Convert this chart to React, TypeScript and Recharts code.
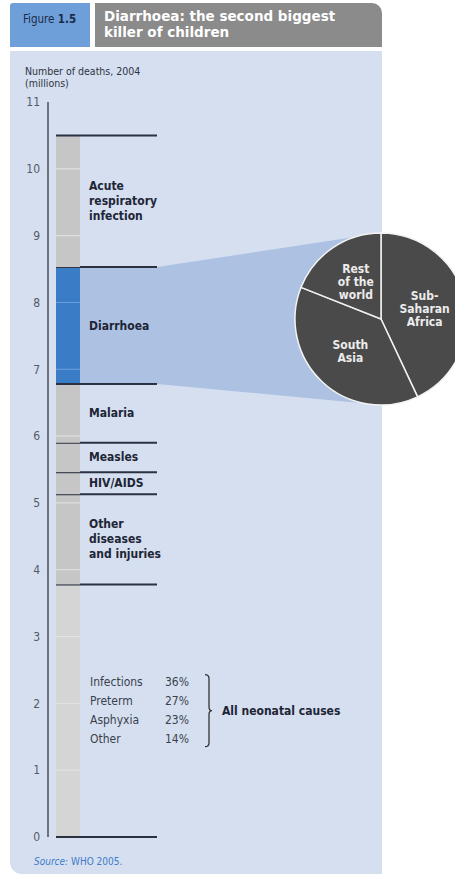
import React from 'react';
import { BarChart, Bar, XAxis, YAxis, PieChart, Pie, Cell } from 'recharts';

// ---------- data ----------
const causes = [
  'All neonatal causes',
  'Other diseases and injuries',
  'HIV/AIDS',
  'Measles',
  'Malaria',
  'Diarrhoea',
  'Acute respiratory infection',
];
const deaths = [3.78, 1.35, 0.33, 0.44, 0.88, 1.75, 1.97];
const causeLabelLines = [
  [] as string[],
  ['Other', 'diseases', 'and injuries'],
  ['HIV/AIDS'],
  ['Measles'],
  ['Malaria'],
  ['Diarrhoea'],
  ['Acute', 'respiratory', 'infection'],
];
const yTicks = [0, 1, 2, 3, 4, 5, 6, 7, 8, 9, 10, 11];

const neonatalCauses = ['Infections', 'Preterm', 'Asphyxia', 'Other'];
const neonatalShares = [36, 27, 23, 14];

const regions = ['Sub-Saharan Africa', 'South Asia', 'Rest of the world'];
const regionShares = [43, 38, 19];
const regionLabelLines = [
  ['Sub-', 'Saharan', 'Africa'],
  ['South', 'Asia'],
  ['Rest', 'of the', 'world'],
];

// ---------- styling / layout ----------
const NARROW = "'Liberation Sans Narrow', 'DejaVu Sans Condensed', 'Roboto Condensed', Arial, sans-serif";
const DIARRHOEA = 5;
const PIE_CX = 381;
const PIE_CY = 319;
const PIE_R = 86;
const LINE_LEN = 101;
const DARK = '#2b3140';
const LABEL = '#1e2535';

const row: Record<string, number | string> = { name: '2004' };
causes.forEach((_, i) => {
  row['c' + i] = deaths[i];
});
const chartData = [row];

function Segment(props: any) {
  const { x, y, width, height, idx } = props;
  if (height == null || width == null) return null;
  const val = deaths[idx];
  const base = deaths.slice(0, idx).reduce((a, b) => a + b, 0);
  const ppu = height / val;
  const bottom = y + height;
  const isDia = idx === DIARRHOEA;
  const fill = isDia ? '#3b7cc6' : idx === 0 ? '#d5d5d5' : '#c6c6c6';
  const gridColor = isDia ? '#6c9edb' : '#e4e4e4';
  const grid: number[] = [];
  for (let k = Math.ceil(base + 1e-6); k < base + val - 1e-6; k++) {
    grid.push(bottom - (k - base) * ppu);
  }
  const lx = x + width + 9;
  const cy = y + height / 2;
  const lines = causeLabelLines[idx];
  const lineEnd = x + LINE_LEN;

  return (
    <g>
      {isDia && (
        <polygon
          points={`${x + width},${y} ${lineEnd},${y} ${PIE_CX},${PIE_CY - PIE_R} ${PIE_CX},${PIE_CY + PIE_R} ${lineEnd},${bottom} ${x + width},${bottom}`}
          fill="#adc2e3"
        />
      )}
      <rect x={x} y={y} width={width} height={height} fill={fill} />
      {grid.map((gy, i) => (
        <line key={i} x1={x} x2={x + width} y1={gy} y2={gy} stroke={gridColor} strokeWidth={1} />
      ))}
      <line x1={x} x2={lineEnd} y1={y} y2={y} stroke={DARK} strokeWidth={2} />
      {(isDia || idx === 0) && (
        <line x1={x} x2={lineEnd} y1={bottom} y2={bottom} stroke={DARK} strokeWidth={2} />
      )}
      {lines.length > 0 && (
        <text fontFamily={NARROW} fontSize={12} fontWeight="bold" fill={LABEL}>
          {lines.map((l, i) => (
            <tspan key={i} x={lx} y={cy + (i - (lines.length - 1) / 2) * 15} dominantBaseline="central">
              {l}
            </tspan>
          ))}
        </text>
      )}
      {idx === 0 && (
        <g fontFamily={NARROW} fontSize={12}>
          {neonatalCauses.map((c, i) => {
            const ty = cy + (i - 1.5) * 19;
            return (
              <g key={c}>
                <text x={lx + 1} y={ty} fill="#3a3f4c" dominantBaseline="central">{c}</text>
                <text x={lx + 76} y={ty} fill="#3a3f4c" dominantBaseline="central">{neonatalShares[i]}%</text>
              </g>
            );
          })}
          <path
            d={`M${lx + 116},${cy - 36} Q${lx + 120},${cy - 36} ${lx + 120},${cy - 32} L${lx + 120},${cy - 4} Q${lx + 120},${cy} ${lx + 123},${cy} Q${lx + 120},${cy} ${lx + 120},${cy + 4} L${lx + 120},${cy + 32} Q${lx + 120},${cy + 36} ${lx + 116},${cy + 36}`}
            fill="none"
            stroke="#333"
            strokeWidth={1.3}
          />
          <text x={lx + 133} y={cy} fill={LABEL} fontWeight="bold" dominantBaseline="central">
            {causes[0]}
          </text>
        </g>
      )}
    </g>
  );
}

const renderPieLabel = (p: any) => {
  const RAD = Math.PI / 180;
  const r = p.outerRadius * 0.52;
  const lx = p.cx + r * Math.cos(-p.midAngle * RAD);
  const ly = p.cy + r * Math.sin(-p.midAngle * RAD);
  const lines = regionLabelLines[p.index];
  return (
    <text fill="#ececec" fontSize={12} fontWeight="bold" textAnchor="middle" fontFamily={NARROW}>
      {lines.map((l, i) => (
        <tspan key={i} x={lx} y={ly + (i - (lines.length - 1) / 2) * 13} dominantBaseline="central">
          {l}
        </tspan>
      ))}
    </text>
  );
};

const pieData = regions.map((name, i) => ({ name, value: regionShares[i] }));

export default function App() {
  return (
    <div
      style={{
        position: 'absolute',
        left: 0,
        top: 0,
        width: 455,
        height: 878,
        overflow: 'hidden',
        background: '#ffffff',
        fontFamily: NARROW,
      }}
    >
      {/* header */}
      <div
        style={{
          position: 'absolute',
          left: 10,
          top: 3,
          width: 80,
          height: 44,
          background: '#6f9fd9',
          borderTopLeftRadius: 3,
        }}
      >
        <div style={{ position: 'absolute', left: 13, top: 9, fontSize: 11.5, color: '#1c2a48', fontFamily: NARROW }}>
          Figure <b>1.5</b>
        </div>
      </div>
      <div
        style={{
          position: 'absolute',
          left: 95,
          top: 3,
          width: 287,
          height: 44,
          background: '#8b8b8b',
          borderTopRightRadius: 10,
        }}
      >
        <div
          style={{
            position: 'absolute',
            left: 9,
            top: 5,
            fontSize: 13.5,
            lineHeight: '16px',
            color: '#ffffff',
            fontWeight: 'bold',
            fontFamily: "'DejaVu Sans', Arial, sans-serif",
          }}
        >
          Diarrhoea: the second biggest
          <br />
          killer of children
        </div>
      </div>
      {/* panel */}
      <div
        style={{
          position: 'absolute',
          left: 10,
          top: 51,
          width: 372,
          height: 823,
          background: '#d5dff0',
          borderBottomLeftRadius: 12,
        }}
      />
      {/* axis title */}
      <div
        style={{
          position: 'absolute',
          left: 25,
          top: 65,
          fontSize: 10.5,
          lineHeight: '12px',
          color: '#2e3342',
          fontFamily: NARROW,
        }}
      >
        <div>Number of deaths, 2004</div>
        <div>(millions)</div>
      </div>
      {/* bar chart */}
      <div style={{ position: 'absolute', left: 0, top: 0 }}>
        <BarChart
          width={455}
          height={878}
          data={chartData}
          margin={{ top: 102, right: 367, bottom: 41, left: 0 }}
        >
          <XAxis dataKey="name" hide height={0} />
          <YAxis
            type="number"
            domain={[0, 11]}
            ticks={yTicks}
            interval={0}
            width={48}
            tickLine={false}
            tickSize={6}
            tickMargin={2}
            axisLine={{ stroke: '#4a4e58', strokeWidth: 1.5 }}
            tick={{ fill: '#555a64', fontSize: 12, fontFamily: NARROW }}
          />
          {causes.map((c, i) => (
            <Bar
              key={c}
              dataKey={'c' + i}
              stackId="a"
              barSize={24}
              isAnimationActive={false}
              shape={(p: any) => <Segment {...p} idx={i} />}
            />
          ))}
        </BarChart>
      </div>
      {/* pie */}
      <div style={{ position: 'absolute', left: 281, top: 219, width: 174, height: 200, overflow: 'hidden' }}>
        <PieChart width={200} height={200} margin={{ top: 0, right: 0, bottom: 0, left: 0 }}>
          <Pie
            data={pieData}
            dataKey="value"
            nameKey="name"
            cx={100}
            cy={100}
            outerRadius={PIE_R}
            startAngle={90}
            endAngle={-270}
            stroke="#f2f2f2"
            strokeWidth={1.5}
            label={renderPieLabel}
            labelLine={false}
            isAnimationActive={false}
          >
            {pieData.map((d) => (
              <Cell key={d.name} fill="#4a4a4a" />
            ))}
          </Pie>
        </PieChart>
      </div>
      {/* source */}
      <div
        style={{
          position: 'absolute',
          left: 34,
          top: 856,
          fontSize: 10,
          color: '#3d7cc9',
          fontFamily: NARROW,
        }}
      >
        <i>Source:</i> WHO 2005.
      </div>
    </div>
  );
}
